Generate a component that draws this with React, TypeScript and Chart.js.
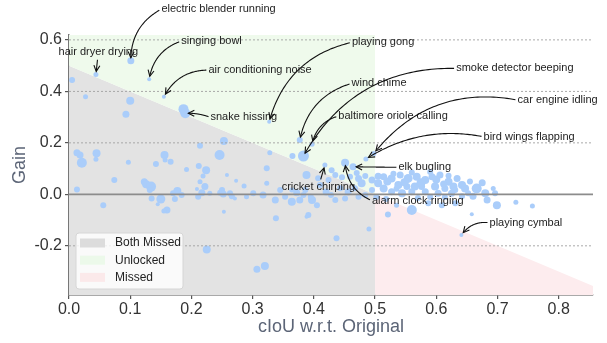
import React, { useEffect, useRef } from "react";
import { Chart, registerables } from "chart.js";

Chart.register(...registerables);

// ---- data -------------------------------------------------------------
const ciouValues = [
  0.101, 0.044, 0.005, 0.131, 0.027, 0.100, 0.155, 0.093, 0.187, 0.190,
  0.327, 0.253, 0.214, 0.246, 0.328, 0.365, 0.383, 0.377, 0.397, 0.418,
  0.388, 0.323, 0.013, 0.018, 0.021, 0.045, 0.044, 0.097, 0.142, 0.156,
  0.157, 0.166, 0.192, 0.212, 0.224, 0.219, 0.074, 0.013, 0.123, 0.126,
  0.134, 0.132, 0.150, 0.135, 0.145, 0.160, 0.155, 0.173, 0.177, 0.184,
  0.170, 0.056, 0.209, 0.211, 0.214, 0.258, 0.222, 0.230, 0.217, 0.247,
  0.253, 0.263, 0.271, 0.273, 0.286, 0.290, 0.301, 0.317, 0.323, 0.337,
  0.338, 0.345, 0.353, 0.364, 0.372, 0.377, 0.383, 0.386, 0.388, 0.395,
  0.397, 0.405, 0.391, 0.364, 0.250, 0.252, 0.266, 0.225, 0.307, 0.320,
  0.498, 0.485, 0.451, 0.464, 0.429, 0.424, 0.435, 0.446, 0.459, 0.473,
  0.478, 0.484, 0.495, 0.505, 0.514, 0.527, 0.541, 0.554, 0.568, 0.582,
  0.593, 0.606, 0.620, 0.634, 0.538, 0.552, 0.565, 0.576, 0.598, 0.614,
  0.628, 0.514, 0.495, 0.527, 0.544, 0.560, 0.582, 0.603, 0.625, 0.535,
  0.560, 0.435, 0.451, 0.473, 0.587, 0.609, 0.631, 0.521, 0.490, 0.437,
  0.642, 0.647, 0.666, 0.680, 0.683, 0.693, 0.696, 0.699, 0.730, 0.757,
  0.658, 0.652, 0.631, 0.641, 0.410, 0.420, 0.443, 0.456, 0.467, 0.484,
  0.407, 0.428, 0.502, 0.518, 0.570, 0.590, 0.614, 0.642, 0.660,
  0.470, 0.520, 0.548, 0.575, 0.600, 0.612, 0.530, 0.560, 0.590, 0.620,
  0.505, 0.535, 0.655, 0.675,
];

const gainValues = [
  0.519, 0.466, 0.444, 0.447, 0.379, 0.364, 0.379, 0.311, 0.331, 0.315,
  0.282, 0.207, 0.189, 0.153, 0.162, 0.149, 0.149, 0.211, 0.195, 0.114,
  0.075, 0.101, 0.162, 0.153, 0.123, 0.160, 0.136, 0.125, 0.118, 0.153,
  0.133, 0.127, 0.097, 0.110, 0.094, 0.071, 0.056, 0.019, 0.049, 0.039,
  0.030, 0.017, -0.018, -0.016, -0.038, -0.061, -0.065, -0.018, 0.013, -0.003,
  0.004, -0.042, 0.021, -0.009, 0.049, 0.075, 0.030, 0.004, 0.006, 0.006,
  -0.068, 0.004, -0.016, 0.053, 0.032, -0.009, 0.004, -0.003, 0.043, -0.022,
  -0.093, 0.017, -0.009, -0.029, 0.006, -0.022, -0.003, 0.017, -0.087, -0.009,
  -0.022, -0.042, -0.080, 0.017, 0.017, 0.001, -0.007, -0.214, -0.291, -0.278,
  0.159, 0.137, 0.123, 0.107, 0.094, 0.056, 0.075, 0.066, 0.068, 0.062,
  0.043, 0.071, 0.056, 0.043, 0.068, 0.062, 0.075, 0.062, 0.068, 0.056,
  0.068, 0.075, 0.049, 0.062, 0.036, 0.030, 0.030, 0.030, 0.030, 0.023,
  0.030, 0.023, 0.017, 0.010, 0.004, 0.010, 0.010, 0.004, 0.004, -0.042,
  -0.061, -0.022, -0.016, -0.009, -0.035, -0.042, -0.035, -0.078, -0.135, -0.171,
  0.036, 0.023, 0.023, 0.004, -0.022, 0.023, 0.004, -0.042, -0.031, -0.045,
  -0.077, 0.004, 0.017, -0.158, 0.036, 0.009, 0.024, 0.009, 0.024, -0.003,
  0.063, -0.003, -0.010, -0.018, -0.014, -0.010, -0.010, -0.007, -0.007,
  0.083, 0.050, 0.047, 0.045, 0.058, 0.040, 0.080, 0.085, 0.087, 0.072,
  0.070, 0.022, 0.050, 0.045,
];

const clipWeight = [
  3.5, 2.5, 3, 2, 2.5, 4, 2, 3.5, 5, 5,
  2, 4, 3, 5, 2.5, 3, 5.5, 3, 2.5, 2.5,
  4, 3, 3.5, 3.5, 5, 4, 2.5, 2.5, 3, 4,
  2.5, 3, 2.5, 3, 4, 2.5, 3, 3, 3.5, 4,
  5, 3, 4.5, 3, 2, 3.5, 2.5, 3, 4, 3,
  3, 3, 2, 3, 2.5, 2, 3.5, 2.5, 3.5, 3,
  2, 3, 2, 2, 2.5, 2.5, 3, 3.5, 2.5, 3.5,
  3, 3, 3, 4, 3.5, 3.5, 3, 3, 2, 3,
  4, 3, 3, 2.5, 3, 3.5, 3, 4, 3.5, 4,
  2.5, 2.5, 4, 3.5, 3, 3, 3, 3, 3, 3.5,
  4, 3, 3.5, 4, 3.5, 4, 3.5, 4.5, 4, 4,
  3.5, 3.5, 4, 3.5, 4, 3.5, 4, 3.5, 4, 3.5,
  4, 4, 3, 3.5, 4, 3.5, 3.5, 3.5, 3.5, 2.5,
  5, 3, 3, 3, 3, 3, 3, 3, 2.5, 3,
  4, 4, 5, 4, 3.5, 2.5, 3, 4, 2.5, 2.5,
  2, 3, 3, 2, 3, 3.5, 3, 3.5, 3, 3,
  3, 3, 3, 3, 3, 3, 3, 3, 3.5,
  3, 4, 4, 4.5, 4, 3.5, 3, 3, 3, 3,
  3.5, 3, 3, 3.5,
];

const xTickValues = [0, 0.1, 0.2, 0.3, 0.4, 0.5, 0.6, 0.7, 0.8];
const yTickValues = [-0.2, 0.0, 0.2, 0.4, 0.6];
const xRange = [0, 0.856];
const yRange = [-0.391, 0.619];

const regionLabels = ["Both Missed", "Unlocked", "Missed"];
const breakEvenStart = [0, 0.5];   // diagonal y = 0.5 - x
const breakEvenSplit = [0.5, 0];

const noteLabels = [
  "electric blender running", "hair dryer drying", "singing bowl",
  "air conditioning noise", "snake hissing", "playing gong", "wind chime",
  "smoke detector beeping", "baltimore oriole calling", "car engine idling",
  "bird wings flapping", "elk bugling", "cricket chirping",
  "alarm clock ringing", "playing cymbal",
];
const noteTargetX = [0.101, 0.044, 0.131, 0.155, 0.190, 0.327, 0.377, 0.383, 0.397, 0.498, 0.485, 0.464, 0.418, 0.451, 0.641];
const noteTargetY = [0.519, 0.466, 0.447, 0.379, 0.315, 0.282, 0.211, 0.149, 0.195, 0.159, 0.137, 0.107, 0.114, 0.123, -0.158];
const noteTextX = [0.2443, 0.0479, 0.2328, 0.3121, 0.2856, 0.5131, 0.5065, 0.7283, 0.5294, 0.7982, 0.7516, 0.5812, 0.4074, 0.5698, 0.7464];
const noteTextY = [0.7196, 0.5538, 0.5953, 0.4827, 0.2990, 0.5905, 0.4310, 0.4893, 0.3040, 0.3662, 0.2237, 0.1049, 0.0272, -0.0249, -0.1103];
const noteBend = [0.3, 0, 0.3, 0.3, 0.1, 0.3, 0.3, 0.3, 0.3, 0.3, 0.2, 0, 0, -0.3, 0.3];
// where the arrow leaves the label: 0 = left edge, 0.5 = centre
const noteAnchor = [0, 0.5, 0, 0, 0, 0, 0, 0, 0, 0, 0, 0, 0.5, 0, 0];

// ---- styling ----------------------------------------------------------
const FONT = '"Liberation Sans", Arial, Helvetica, sans-serif';
const POINT_COLOR = "rgb(170,205,250)";
const REGION_COLORS = ["#e3e3e3", "#effaec", "#fdecee"];

function drawAnnotation(
  ctx: CanvasRenderingContext2D,
  text: string,
  tx: number,
  ty: number,
  px: number,
  py: number,
  rad: number,
  anchor: number
) {
  ctx.font = `11px ${FONT}`;
  ctx.fillStyle = "#222";
  ctx.textAlign = "center";
  ctx.textBaseline = "middle";
  ctx.fillText(text, tx, ty);
  const w = ctx.measureText(text).width;
  const h = 12;
  const pad = 2;
  const bx0 = tx - w / 2 - pad, bx1 = tx + w / 2 + pad;
  const by0 = ty - h / 2 - pad, by1 = ty + h / 2 + pad;
  const sx = tx - w / 2 + anchor * w;
  const sy = ty;
  const mx = (sx + px) / 2, my = (sy + py) / 2;
  const dx = px - sx, dy = py - sy;
  const cx = mx - rad * dy, cy = my + rad * dx;
  const B = (t: number) => [
    (1 - t) * (1 - t) * sx + 2 * t * (1 - t) * cx + t * t * px,
    (1 - t) * (1 - t) * sy + 2 * t * (1 - t) * cy + t * t * py,
  ];
  let t0 = 0;
  for (let t = 0; t <= 1; t += 0.002) {
    const [x, y] = B(t);
    if (x < bx0 || x > bx1 || y < by0 || y > by1) { t0 = t; break; }
  }
  let t1 = 1;
  for (let t = 1; t >= t0; t -= 0.002) {
    const [x, y] = B(t);
    if (Math.hypot(x - px, y - py) >= 3) { t1 = t; break; }
  }
  ctx.strokeStyle = "#111";
  ctx.lineWidth = 1.1;
  ctx.beginPath();
  const steps = 60;
  for (let i = 0; i <= steps; i++) {
    const t = t0 + ((t1 - t0) * i) / steps;
    const [x, y] = B(t);
    if (i === 0) ctx.moveTo(x, y); else ctx.lineTo(x, y);
  }
  ctx.stroke();
  const [ex, ey] = B(t1);
  const [bx, by] = B(Math.max(t0, t1 - 0.02));
  const ang = Math.atan2(ey - by, ex - bx);
  const L = 6, W = 3;
  ctx.beginPath();
  ctx.moveTo(ex - L * Math.cos(ang) + W * Math.sin(ang), ey - L * Math.sin(ang) - W * Math.cos(ang));
  ctx.lineTo(ex, ey);
  ctx.lineTo(ex - L * Math.cos(ang) - W * Math.sin(ang), ey - L * Math.sin(ang) + W * Math.cos(ang));
  ctx.stroke();
}

const overlayPlugin = {
  id: "overlay",
  afterDatasetsDraw(chart: any) {
    const { ctx, chartArea, scales } = chart;
    const ys = scales.y;
    ctx.save();
    for (const v of yTickValues) {
      const py = ys.getPixelForValue(v);
      ctx.beginPath();
      if (v === 0) {
        ctx.setLineDash([]);
        ctx.strokeStyle = "#8c8c8c";
        ctx.lineWidth = 1.6;
      } else {
        ctx.setLineDash([2, 2]);
        ctx.strokeStyle = "#a0a0a0";
        ctx.lineWidth = 0.9;
      }
      ctx.moveTo(chartArea.left, py);
      ctx.lineTo(chartArea.right, py);
      ctx.stroke();
    }
    ctx.restore();
  },
  afterDraw(chart: any) {
    const { ctx, chartArea, scales } = chart;
    const xs = scales.x, ys = scales.y;
    ctx.save();
    for (let i = 0; i < noteLabels.length; i++) {
      drawAnnotation(
        ctx,
        noteLabels[i],
        xs.getPixelForValue(noteTextX[i]),
        ys.getPixelForValue(noteTextY[i]),
        xs.getPixelForValue(noteTargetX[i]),
        ys.getPixelForValue(noteTargetY[i]),
        noteBend[i],
        noteAnchor[i]
      );
    }
    // legend
    const lx = chartArea.left + 7;
    const lw = 107, lh = 56;
    const lyTop = chartArea.bottom - 6 - lh;
    ctx.beginPath();
    const r = 3;
    ctx.moveTo(lx + r, lyTop);
    ctx.arcTo(lx + lw, lyTop, lx + lw, lyTop + lh, r);
    ctx.arcTo(lx + lw, lyTop + lh, lx, lyTop + lh, r);
    ctx.arcTo(lx, lyTop + lh, lx, lyTop, r);
    ctx.arcTo(lx, lyTop, lx + lw, lyTop, r);
    ctx.closePath();
    ctx.fillStyle = "rgba(255,255,255,0.8)";
    ctx.fill();
    ctx.strokeStyle = "#d6d6d6";
    ctx.lineWidth = 1;
    ctx.stroke();
    ctx.font = `12px ${FONT}`;
    ctx.textAlign = "left";
    ctx.textBaseline = "middle";
    const regionSets = chart.data.datasets.filter((d: any) => d.isRegion);
    regionSets.forEach((d: any, i: number) => {
      const cy = lyTop + 10 + i * 17.2;
      ctx.fillStyle = d.legendSwatch;
      ctx.fillRect(lx + 4, cy - 4.5, 25, 9);
      ctx.fillStyle = "#222";
      ctx.fillText(d.label, lx + 39, cy);
    });
    ctx.restore();
  },
};

export default function App() {
  const canvasRef = useRef<HTMLCanvasElement | null>(null);

  useEffect(() => {
    const canvas = canvasRef.current;
    if (!canvas) return;
    const points = ciouValues.map((x, i) => ({ x, y: gainValues[i] }));
    const diagonal = [
      { x: breakEvenStart[0], y: breakEvenStart[1] },
      { x: breakEvenSplit[0], y: breakEvenSplit[1] },
    ];
    const diagonalRight = [
      { x: breakEvenSplit[0], y: breakEvenSplit[1] },
      { x: xRange[1], y: breakEvenStart[1] - xRange[1] },
    ];
    const regionBase = {
      type: "line" as const,
      borderColor: "rgba(0,0,0,0)",
      borderWidth: 0,
      pointRadius: 0,
      tension: 0,
      isRegion: true,
    };
    const chart = new Chart(canvas, {
      type: "scatter",
      data: {
        datasets: [
          {
            type: "scatter",
            label: "clips",
            data: points,
            pointRadius: clipWeight,
            pointHoverRadius: clipWeight,
            backgroundColor: POINT_COLOR,
            borderWidth: 0,
            order: 0,
          } as any,
          { ...regionBase, label: regionLabels[0], data: diagonal, fill: "start", backgroundColor: REGION_COLORS[0], legendSwatch: "#dcdcdc", order: 3 } as any,
          { ...regionBase, label: regionLabels[1], data: diagonal, fill: "end", backgroundColor: REGION_COLORS[1], legendSwatch: "#ecf9ea", order: 2 } as any,
          { ...regionBase, label: regionLabels[2], data: diagonalRight, fill: "start", backgroundColor: REGION_COLORS[2], legendSwatch: "#fbe9ea", order: 1 } as any,
        ],
      },
      options: {
        responsive: false,
        animation: false,
        events: [],
        devicePixelRatio: 1,
        layout: { padding: { top: 35, right: 14, left: 0, bottom: 0 } },
        plugins: {
          legend: { display: false },
          tooltip: { enabled: false },
        },
        scales: {
          x: {
            type: "linear",
            min: xRange[0],
            max: xRange[1],
            afterBuildTicks: (s: any) => {
              s.ticks = xTickValues.map((v) => ({ value: v }));
            },
            afterFit: (s: any) => {
              s.height = 48;
            },
            grid: {
              drawOnChartArea: false,
              drawTicks: true,
              tickLength: 4,
              color: "#555",
              lineWidth: 1.2,
            },
            border: { display: true, color: "#555", width: 1.5 },
            ticks: {
              padding: 1,
              color: "#333",
              font: { size: 16, family: FONT },
              maxRotation: 0,
              callback: (v: any) => Number(v).toFixed(1),
            },
            title: {
              display: true,
              text: "cIoU w.r.t. Original",
              color: "#5c6577",
              font: { size: 18, family: FONT },
              padding: { top: 0, bottom: 5 },
            },
          },
          y: {
            type: "linear",
            min: yRange[0],
            max: yRange[1],
            afterBuildTicks: (s: any) => {
              s.ticks = yTickValues.map((v) => ({ value: v }));
            },
            afterFit: (s: any) => {
              s.width = 69;
            },
            grid: {
              drawOnChartArea: false,
              drawTicks: true,
              tickLength: 4,
              color: "#555",
              lineWidth: 1.2,
            },
            border: { display: true, color: "#777", width: 1.5 },
            ticks: {
              padding: 3,
              color: "#333",
              font: { size: 16, family: FONT },
              callback: (v: any) => Number(v).toFixed(1),
            },
            title: {
              display: true,
              text: "Gain",
              color: "#5c6577",
              font: { size: 18, family: FONT },
              padding: { top: 9, bottom: 0 },
            },
          },
        },
      } as any,
      plugins: [overlayPlugin],
    });
    return () => chart.destroy();
  }, []);

  return (
    <div style={{ position: "fixed", left: 0, top: 0, width: 607, height: 343, background: "#fff" }}>
      <canvas ref={canvasRef} width={607} height={343} />
    </div>
  );
}
